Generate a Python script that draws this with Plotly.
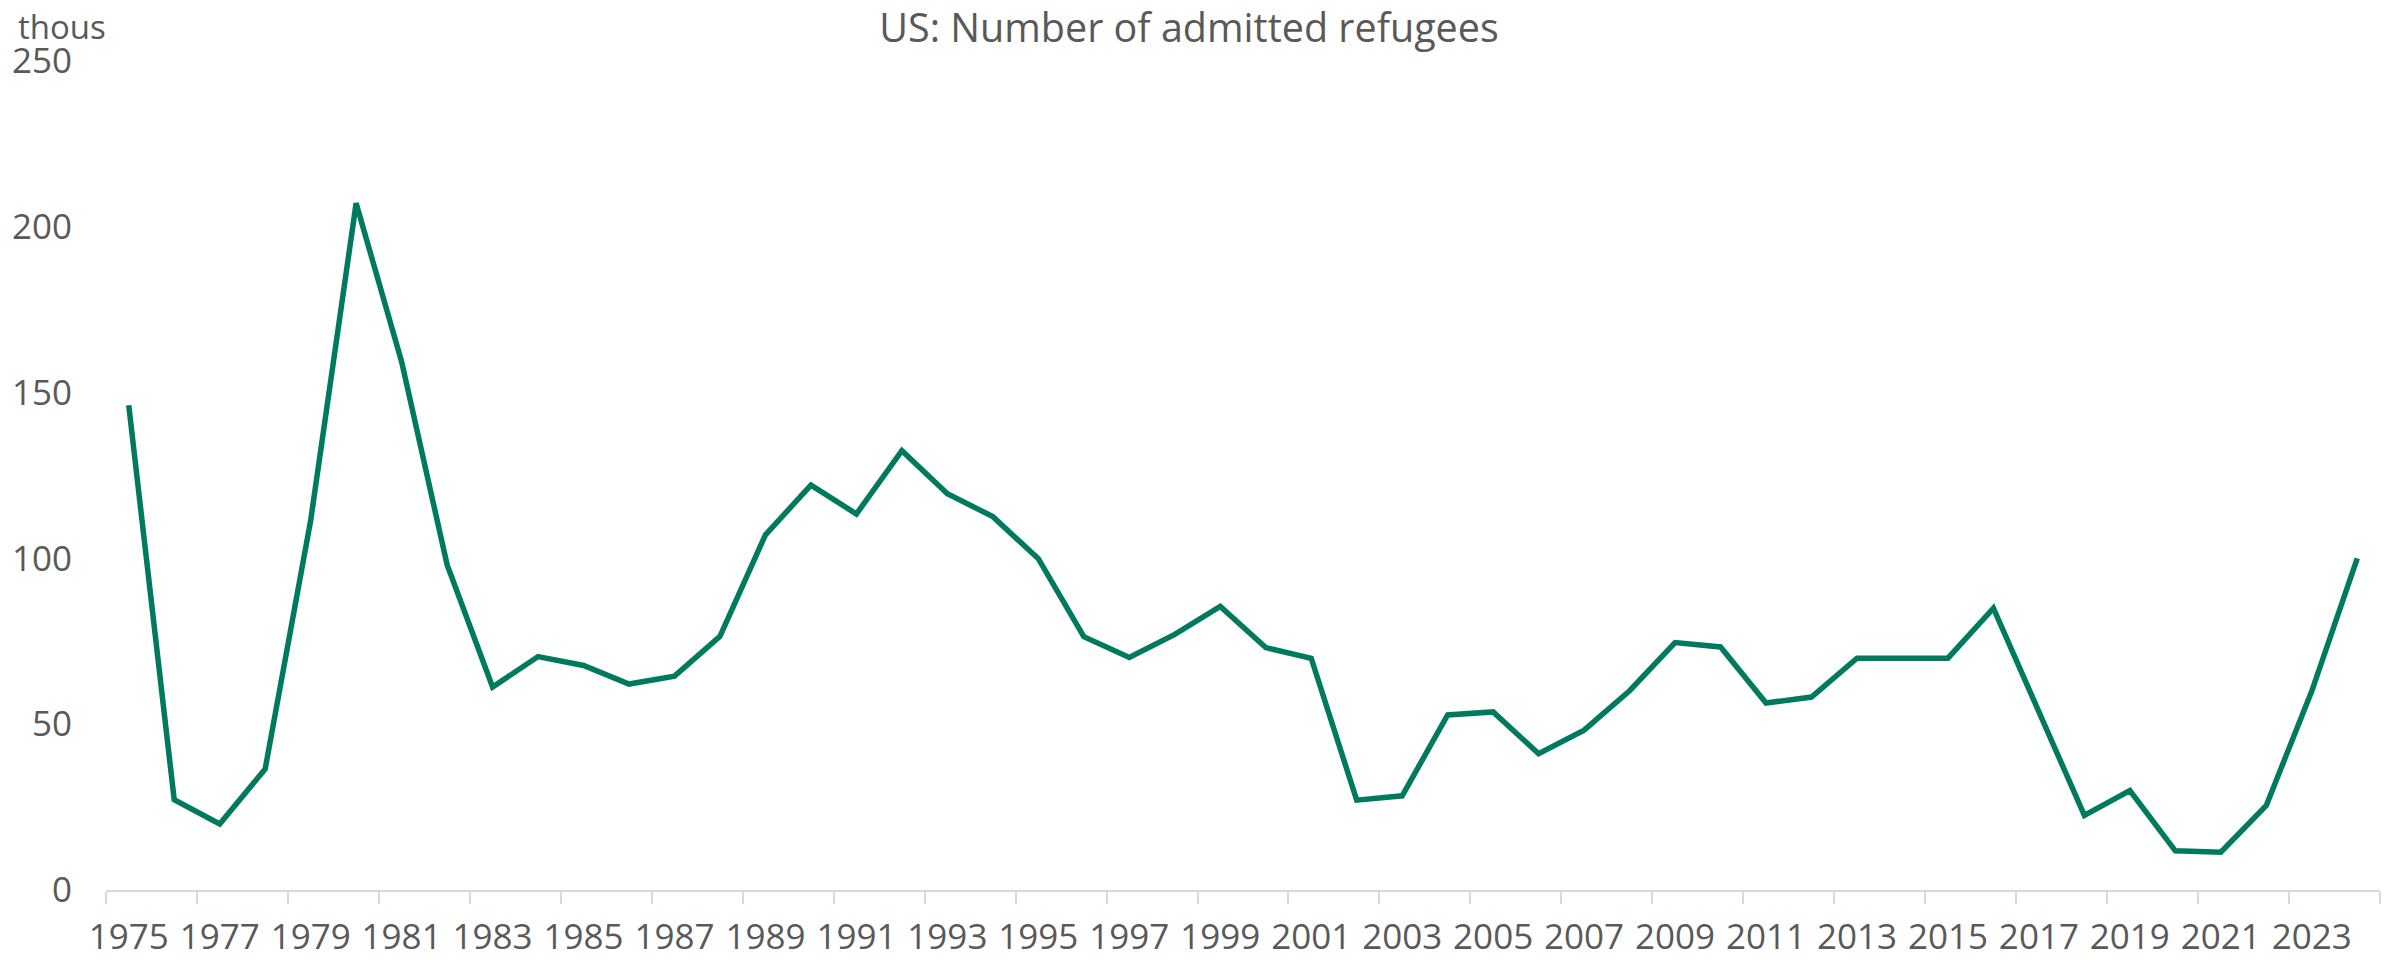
import plotly.graph_objects as go

years = list(range(1975, 2025))
refugees_thous = [
    146.2, 27.2, 19.9, 36.5, 111.4, 207.1, 159.3, 98.1, 61.2, 70.4,
    67.7, 62.1, 64.5, 76.5, 107.1, 122.1, 113.4, 132.5, 119.5, 112.6,
    99.9, 76.4, 70.1, 77.1, 85.5, 73.1, 69.9, 27.1, 28.4, 52.8,
    53.7, 41.1, 48.2, 60.1, 74.6, 73.3, 56.4, 58.2, 69.9, 70.0,
    69.9, 85.0, 53.7, 22.5, 30.0, 11.8, 11.4, 25.5, 60.0, 100.0,
]
label_years = list(range(1975, 2024, 2))
boundary_ticks = [y - 0.5 for y in range(1975, 2026, 2)]
y_ticks = [0, 50, 100, 150, 200, 250]

TEXT = "#595959"
FONT = "Open Sans"
FS_TICK = 35
FS_TITLE = 39.5
FS_UNIT = 33

W, H = 2394, 960
L, R, T, B = 106, 14, 61, 70
PW, PH = W - L - R, H - T - B

fig = go.Figure()
fig.add_trace(go.Scatter(
    x=years, y=refugees_thous, mode="lines",
    line=dict(color="#007A5E", width=5.5), showlegend=False,
    hoverinfo="x+y",
))

fig.update_layout(
    width=W, height=H,
    paper_bgcolor="white", plot_bgcolor="white",
    margin=dict(l=L, r=R, t=T, b=B, autoexpand=False),
    font=dict(family=FONT, size=FS_TICK, color=TEXT),
    title=dict(text="US: Number of admitted refugees", x=1189 / W, xanchor="center",
               y=1 - 28 / H, yanchor="middle", yref="container",
               font=dict(family=FONT, size=FS_TITLE, color=TEXT)),
    xaxis=dict(
        range=[1974.5, 2024.5], tickmode="array", tickvals=label_years,
        ticktext=[str(v) for v in label_years], ticks="", showgrid=False,
        zeroline=False, showline=True, linecolor="#D9D9D9", linewidth=2,
        ticklabelstandoff=15, automargin=False,
        minor=dict(tickmode="array", tickvals=boundary_ticks, ticks="outside",
                   ticklen=12, tickwidth=2, tickcolor="#D9D9D9", showgrid=False),
        tickfont=dict(family=FONT, size=FS_TICK, color=TEXT),
    ),
    yaxis=dict(
        range=[0, 250], tickmode="array", tickvals=y_ticks, showgrid=False,
        zeroline=False, showline=False, ticks="", ticklabelstandoff=33,
        automargin=False,
        tickfont=dict(family=FONT, size=FS_TICK, color=TEXT),
    ),
    annotations=[dict(text="thous", xref="paper", yref="paper",
                      x=(16 - L) / PW, y=(H - B - 26) / PH,
                      xanchor="left", yanchor="middle", showarrow=False,
                      font=dict(family=FONT, size=FS_UNIT, color=TEXT))],
)

fig.write_html("out.html", config={"displayModeBar": False},
               post_script="document.body.style.margin='0';document.body.style.overflow='hidden';")
